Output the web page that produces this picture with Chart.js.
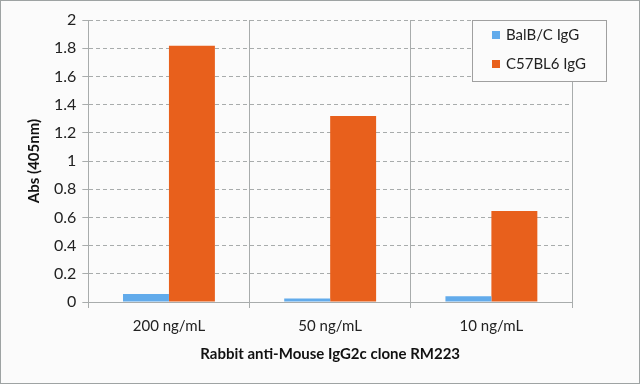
<!DOCTYPE html>
<html>
<head>
<meta charset="utf-8">
<script src="https://cdn.jsdelivr.net/npm/chart.js@4"></script>
<style>
  html, body { margin: 0; padding: 0; background: #fff; }
  #wrap { width: 640px; height: 384px; }
</style>
</head>
<body>
<div id="wrap"><canvas id="grafica" width="640" height="384"></canvas></div>
<script>
// Datos
const categorias = ['200 ng/mL', '50 ng/mL', '10 ng/mL'];
const balbc = [0.057, 0.025, 0.04];
const c57bl6 = [1.817, 1.32, 0.645];
const ticksY = [0, 0.2, 0.4, 0.6, 0.8, 1, 1.2, 1.4, 1.6, 1.8, 2];

const fuente = 'Lato, "Open Sans", sans-serif';

// Fondo y marco exterior
const fondo = {
    id: 'fondo',
    beforeDraw(chart) {
        const ctx = chart.ctx;
        ctx.save();
        ctx.fillStyle = '#fbfbfb';
        ctx.fillRect(0, 0, chart.width, chart.height);
        ctx.strokeStyle = '#9ea3a3';
        ctx.lineWidth = 1;
        ctx.strokeRect(0.5, 0.5, chart.width - 1, chart.height - 1);
        ctx.restore();
    }
};

// Leyenda con recuadro dibujada a mano
const leyenda = {
    id: 'leyenda',
    afterDraw(chart) {
        const ctx = chart.ctx;
        const x = 472, y = 20, w = 134, h = 61;
        ctx.save();
        ctx.fillStyle = '#fbfbfb';
        ctx.fillRect(x, y, w, h);
        ctx.strokeStyle = '#a0a0a0';
        ctx.lineWidth = 1;
        ctx.strokeRect(x + 0.5, y + 0.5, w, h);
        ctx.font = '15px ' + fuente;
        ctx.textBaseline = 'middle';
        chart.data.datasets.forEach((ds, i) => {
            const cy = y + 15 + i * 29;
            ctx.fillStyle = ds.backgroundColor;
            ctx.fillRect(x + 20, cy - 4, 8, 8);
            ctx.fillStyle = '#222';
            ctx.fillText(ds.label, x + 34, cy);
        });
        ctx.restore();
    }
};

new Chart(document.getElementById('grafica').getContext('2d'), {
    type: 'bar',
    data: {
        labels: categorias,
        datasets: [
            { label: 'BalB/C IgG', data: balbc, backgroundColor: '#62abeb' },
            { label: 'C57BL6 IgG', data: c57bl6, backgroundColor: '#e8601c' }
        ]
    },
    options: {
        responsive: false,
        animation: false,
        layout: { padding: { left: 21, right: 68, top: 20, bottom: 17 } },
        datasets: { bar: { categoryPercentage: 0.57, barPercentage: 1 } },
        plugins: {
            legend: { display: false },
            tooltip: { enabled: false }
        },
        scales: {
            x: {
                grid: { color: '#a8acac', lineWidth: 1, offset: true, tickLength: 6 },
                border: { color: '#a8acac' },
                ticks: { color: '#222', font: { family: fuente, size: 15 }, padding: 9 },
                title: {
                    display: true,
                    text: 'Rabbit anti-Mouse IgG2c clone RM223',
                    color: '#111',
                    font: { family: fuente, size: 15, weight: 'bold' },
                    padding: { top: 1 }
                }
            },
            y: {
                min: 0,
                max: 2,
                afterBuildTicks(scale) {
                    scale.ticks = ticksY.map(v => ({ value: v }));
                },
                grid: { color: '#a8acac', lineWidth: 1, tickLength: 6 },
                border: { color: '#a8acac', dash: [4, 3] },
                ticks: {
                    color: '#222',
                    font: { family: fuente, size: 16 },
                    padding: 6,
                    callback: v => String(v)
                },
                title: {
                    display: true,
                    text: 'Abs (405nm)',
                    color: '#111',
                    font: { family: fuente, size: 15, weight: 'bold' },
                    padding: { bottom: 5 }
                }
            }
        }
    },
    plugins: [fondo, leyenda]
});
</script>
</body>
</html>
